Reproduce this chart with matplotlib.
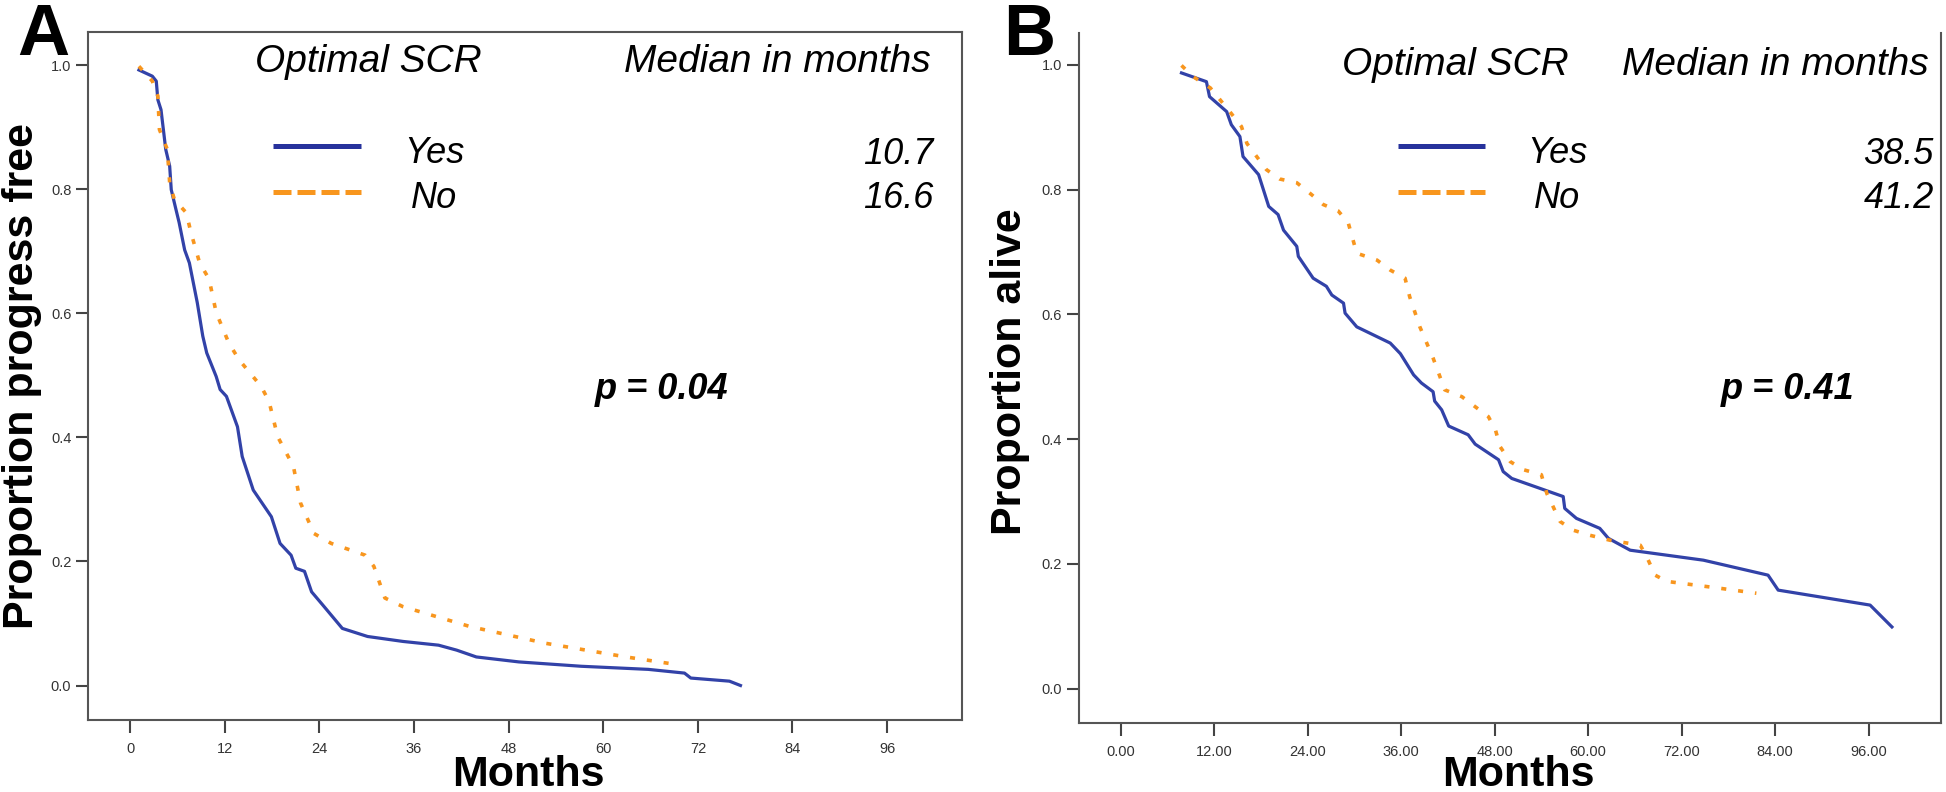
import matplotlib
matplotlib.use("Agg")
import matplotlib.pyplot as plt
from matplotlib.lines import Line2D

plt.rcParams['font.family'] = ['Liberation Sans', 'DejaVu Sans']

# Panel A: progression-free survival (months, proportion)
a_yes_t = [1.1, 2.8, 3.3, 3.5, 3.9, 4.5, 5.0, 5.2, 5.8, 6.2, 6.9, 7.5, 8.5, 9.2, 9.7,
           10.9, 11.4, 12.2, 13.6, 14.2, 15.6, 17.9, 19.0, 20.4, 21.0, 22.1, 23.0,
           24.4, 26.9, 30.1, 34.6, 39.1, 41.4, 43.9, 49.3, 57.2, 65.7, 70.3, 71.1,
           76.0, 77.4]
a_yes_s = [0.992, 0.982, 0.974, 0.944, 0.928, 0.864, 0.837, 0.799, 0.767, 0.746,
           0.702, 0.681, 0.617, 0.563, 0.536, 0.498, 0.477, 0.466, 0.417, 0.369,
           0.315, 0.272, 0.229, 0.210, 0.189, 0.184, 0.151, 0.130, 0.092, 0.079,
           0.071, 0.065, 0.057, 0.046, 0.038, 0.031, 0.026, 0.020, 0.012, 0.007, 0.0]
a_no_t = [1.1, 2.8, 3.5, 3.7, 4.7, 5.0, 5.6, 7.1, 7.7, 8.8, 10.0, 10.9, 12.5, 13.8,
          15.3, 16.6, 17.6, 18.7, 20.7, 21.6, 23.3, 25.5, 29.8, 30.9, 32.3, 34.6,
          43.1, 52.7, 62.9, 69.7]
a_no_s = [0.998, 0.974, 0.950, 0.896, 0.864, 0.810, 0.783, 0.762, 0.730, 0.681,
          0.655, 0.601, 0.552, 0.525, 0.502, 0.482, 0.458, 0.401, 0.353, 0.294,
          0.245, 0.229, 0.210, 0.192, 0.141, 0.127, 0.095, 0.068, 0.046, 0.033]

# Panel B: overall survival
b_yes_t = [7.8, 11.0, 11.4, 13.6, 14.2, 15.3, 15.7, 17.7, 19.0, 20.2, 20.9, 22.6,
           22.8, 24.7, 26.4, 27.1, 28.6, 28.8, 30.3, 34.6, 35.9, 37.6, 38.6, 40.1,
           40.3, 41.2, 42.1, 44.6, 45.5, 48.5, 49.1, 50.2, 56.8, 57.0, 58.5, 61.5,
           62.6, 65.4, 70.1, 74.8, 83.1, 84.4, 96.2, 99.0]
b_yes_s = [0.987, 0.973, 0.949, 0.925, 0.904, 0.885, 0.853, 0.824, 0.773, 0.760,
           0.735, 0.709, 0.693, 0.658, 0.645, 0.631, 0.618, 0.602, 0.580, 0.554,
           0.537, 0.503, 0.490, 0.476, 0.461, 0.447, 0.421, 0.407, 0.392, 0.367,
           0.348, 0.337, 0.308, 0.289, 0.273, 0.257, 0.241, 0.222, 0.214, 0.206,
           0.182, 0.158, 0.134, 0.099]
b_no_t = [7.8, 9.3, 11.5, 14.0, 15.5, 16.2, 18.7, 20.4, 22.6, 24.3, 26.0, 27.9,
          29.2, 30.3, 32.9, 34.6, 36.5, 37.1, 38.4, 40.1, 41.6, 43.8, 47.2, 48.1,
          48.7, 50.0, 51.7, 54.0, 54.7, 55.5, 56.4, 58.1, 60.2, 62.8, 66.7, 67.5,
          68.6, 70.1, 76.9, 81.6]
b_no_s = [0.999, 0.981, 0.963, 0.925, 0.901, 0.874, 0.832, 0.817, 0.811, 0.794,
          0.776, 0.766, 0.747, 0.698, 0.687, 0.671, 0.658, 0.628, 0.580, 0.530,
          0.479, 0.468, 0.436, 0.415, 0.388, 0.364, 0.351, 0.343, 0.313, 0.292,
          0.268, 0.254, 0.246, 0.238, 0.230, 0.212, 0.182, 0.172, 0.161, 0.153]

x_ticks = [0, 12, 24, 36, 48, 60, 72, 84, 96]
y_ticks = [0.0, 0.2, 0.4, 0.6, 0.8, 1.0]
a_xlabels = ["0", "12", "24", "36", "48", "60", "72", "84", "96"]
b_xlabels = ["0.00", "12.00", "24.00", "36.00", "48.00", "60.00", "72.00", "84.00", "96.00"]
y_labels = ["0.0", "0.2", "0.4", "0.6", "0.8", "1.0"]
a_medians = ["10.7", "16.6"]
b_medians = ["38.5", "41.2"]

BLUE = '#3242a8'
ORANGE = '#f8961e'
W, H = 1946, 792


def fx(px):
    return px / W


def fy(py):
    return 1 - py / H


fig = plt.figure(figsize=(19.46, 7.92), dpi=100)
axA = fig.add_axes([fx(88), fy(720), (962 - 88) / W, (720 - 32) / H])
axB = fig.add_axes([fx(1078.5), fy(722.7), (1941 - 1078.5) / W, (722.7 - 33) / H])


def style(ax, xlabels, top):
    ax.set_xticks(x_ticks)
    ax.set_xticklabels(xlabels)
    ax.set_yticks(y_ticks)
    ax.set_yticklabels(y_labels)
    ax.tick_params(axis='both', length=9, width=1.5, color='#444444',
                   labelsize=10.5, labelcolor='#333333')
    ax.tick_params(axis='x', pad=7)
    ax.tick_params(axis='y', pad=3)
    for name, sp in ax.spines.items():
        sp.set_color('#555555')
        sp.set_linewidth(1.5)
    ax.spines['top'].set_visible(top)


axA.plot(a_yes_t, a_yes_s, color=BLUE, lw=2.3)
axA.plot(a_no_t, a_no_s, color=ORANGE, lw=2.6, linestyle=(0, (1.4, 3.3)))
axA.set_xlim(-5.36, 105.5)
axA.set_ylim(-0.0556, 1.0532)
style(axA, a_xlabels, True)

axB.plot(b_yes_t, b_yes_s, color=BLUE, lw=2.3)
axB.plot(b_no_t, b_no_s, color=ORANGE, lw=2.6, linestyle=(0, (1.4, 3.3)))
axB.set_xlim(-5.42, 105.3)
axB.set_ylim(-0.0545, 1.051)
style(axB, b_xlabels, False)

# axis labels
fig.text(fx(22), fy(376), "Proportion progress free", rotation=90, ha='center',
         va='center', fontsize=31, fontweight='bold')
fig.text(fx(1010), fy(372), "Proportion alive", rotation=90, ha='center',
         va='center', fontsize=31, fontweight='bold')
fig.text(fx(528), fy(786), "Months", ha='center', va='baseline', fontsize=31,
         fontweight='bold')
fig.text(fx(1518), fy(786), "Months", ha='center', va='baseline', fontsize=31,
         fontweight='bold')

# panel letters
fig.text(fx(17), fy(55), "A", ha='left', va='baseline', fontsize=52, fontweight='bold')
fig.text(fx(1003), fy(55), "B", ha='left', va='baseline', fontsize=52, fontweight='bold')


def legend_block(x_opt, x_med_right, x_line0, x_line1, x_lab, x_val_right, meds, p_text, x_p, base):
    fig.text(fx(x_opt), fy(base), "Optimal SCR", ha='left', va='baseline',
             fontsize=28, style='italic')
    fig.text(fx(x_med_right), fy(base), "Median in months", ha='right', va='baseline',
             fontsize=28, style='italic')
    fig.add_artist(Line2D([fx(x_line0), fx(x_line1)], [fy(146), fy(146)],
                          color='#27329c', lw=3.6, solid_capstyle='butt'))
    fig.add_artist(Line2D([fx(x_line0), fx(x_line1)], [fy(192), fy(192)],
                          color=ORANGE, lw=3.6, linestyle=(0, (3.6, 1.2))))
    fig.text(fx(x_lab), fy(163), "Yes", ha='center', va='baseline', fontsize=26,
             style='italic')
    fig.text(fx(x_lab), fy(208), "No", ha='center', va='baseline', fontsize=26,
             style='italic')
    fig.text(fx(x_val_right), fy(164), meds[0], ha='right', va='baseline',
             fontsize=26, style='italic')
    fig.text(fx(x_val_right), fy(208), meds[1], ha='right', va='baseline',
             fontsize=26, style='italic')
    fig.text(fx(x_p), fy(399), p_text, ha='left', va='baseline', fontsize=26,
             style='italic', fontweight='bold')


legend_block(255, 931, 273, 361, 434, 933, a_medians, "p = 0.04", 595, 72)
legend_block(1342, 1929, 1398, 1485, 1557, 1934, b_medians, "p = 0.41", 1721, 75)

fig.savefig("out.png", dpi=100)
